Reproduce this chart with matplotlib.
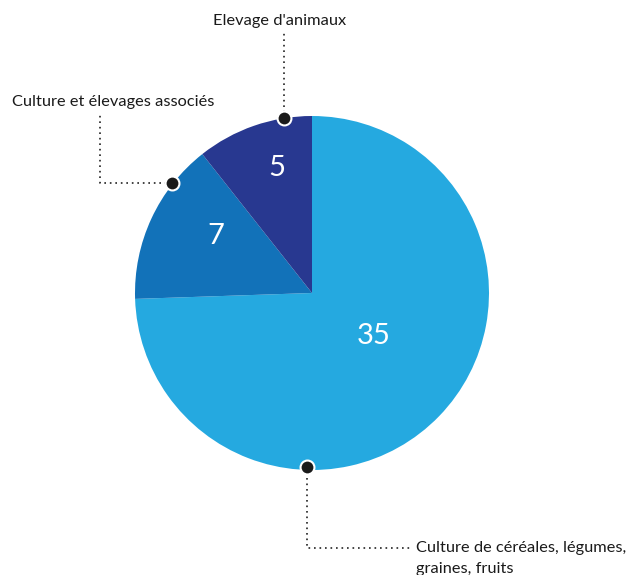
import matplotlib
matplotlib.use("Agg")
import matplotlib.pyplot as plt

values = [35, 7, 5]
names = ["Culture de céréales, légumes,\ngraines, fruits",
         "Culture et élevages associés",
         "Elevage d'animaux"]
colors = ["#25a9e0", "#1272b9", "#283890"]

W, H = 639, 575
fig = plt.figure(figsize=(W / 100, H / 100), dpi=100)
ax = fig.add_axes([0, 0, 1, 1])
ax.set_xlim(0, W)
ax.set_ylim(0, H)
ax.set_aspect("equal")
ax.axis("off")

def Y(y):
    return H - y

cx, cy, r = 312, Y(293), 177
ax.pie(values, colors=colors, startangle=90, counterclock=False,
       center=(cx, cy), radius=r, wedgeprops=dict(linewidth=0))
ax.set_xlim(0, W)
ax.set_ylim(0, H)

font = "Lato"
# value labels
val_pos = [(374, 336), (216, 236), (277, 168)]
for v, (x, y) in zip(values, val_pos):
    ax.text(x, Y(y), str(v), color="white", fontsize=21, family=font,
            ha="center", va="center")

dot_kw = dict(marker="o", markersize=10, markerfacecolor="#1a1a1a",
              markeredgecolor="white", markeredgewidth=1.5, zorder=5)
line_kw = dict(color="#222222", linewidth=1.2, linestyle=(0, (1, 2.3)), zorder=4)
tkw = dict(fontsize=11.8, family=font, color="#1a1a1a")

# 35
ax.plot([307, 307, 410], [Y(467), Y(548), Y(548)], **line_kw)
ax.plot([307], [Y(467)], **dot_kw)
for i, line in enumerate(names[0].split("\n")):
    ax.text(416, Y(552 + 21 * i), line, ha="left", va="baseline", **tkw)
# 7
ax.plot([172, 100, 100], [Y(183), Y(183), Y(113)], **line_kw)
ax.plot([172], [Y(183)], **dot_kw)
ax.text(12, Y(106), names[1], ha="left", va="baseline", **tkw)
# 5
ax.plot([284, 284], [Y(118), Y(30)], **line_kw)
ax.plot([284], [Y(118)], **dot_kw)
ax.text(280, Y(25), names[2], ha="center", va="baseline", **tkw)

fig.savefig("out.png", dpi=100, facecolor="white")
